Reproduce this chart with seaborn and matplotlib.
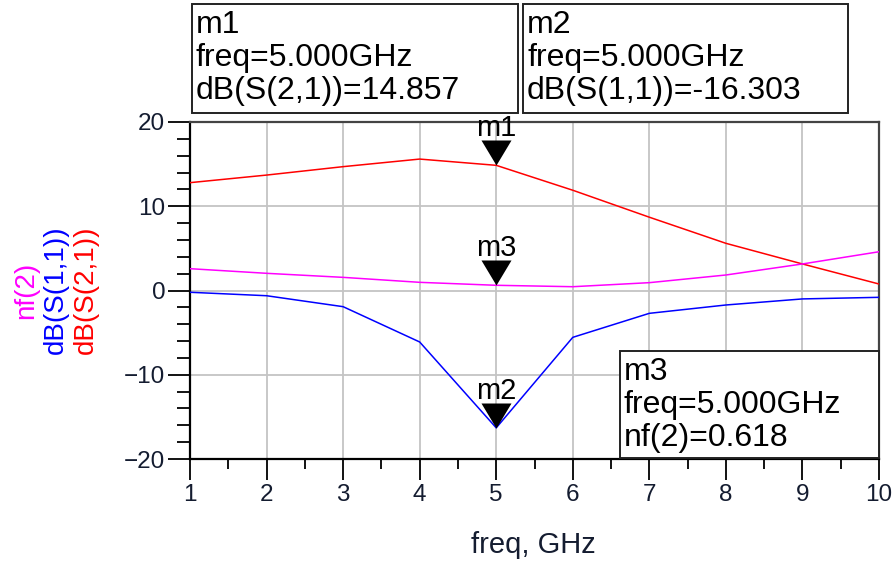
import pandas
import seaborn as sns
from matplotlib import pyplot
from matplotlib.patches import Rectangle
from matplotlib.ticker import MultipleLocator

sns.set_style("white")
pyplot.rcParams['font.family'] = ['Liberation Sans', 'DejaVu Sans']

# simulated sweep, 1 GHz step
freq_ghz = [1, 2, 3, 4, 5, 6, 7, 8, 9, 10]
s21_db = [12.8, 13.7, 14.7, 15.6, 14.857, 11.9, 8.7, 5.6, 3.15, 0.77]
s11_db = [-0.21, -0.62, -1.92, -6.11, -16.303, -5.56, -2.71, -1.72, -1.0, -0.81]
nf2 = [2.59, 2.04, 1.56, 0.97, 0.618, 0.45, 0.93, 1.84, 3.15, 4.6]

trace_names = ['dB(S(2,1))', 'dB(S(1,1))', 'nf(2)']
trace_colors = ['#ff0000', '#0000ff', '#ff00ff']

marker_names = ['m1', 'm2', 'm3']
marker_freq = 5.0
marker_values = [14.857, -16.303, 0.618]
marker_text = ['dB(S(2,1))=14.857', 'dB(S(1,1))=-16.303', 'nf(2)=0.618']


def build_df():
    parts = []
    for name, vals in zip(trace_names, [s21_db, s11_db, nf2]):
        parts.append(pandas.DataFrame({'freq': freq_ghz, 'value': vals, 'trace': name}))
    return pandas.concat(parts, ignore_index=True)


W, H = 892, 561
fig = pyplot.figure(figsize=(W / 100, H / 100), dpi=100)
ax = fig.add_axes([190 / W, 1 - 459 / H, (879 - 190) / W, (459 - 122) / H])

plot_df = build_df()
sns.lineplot(data=plot_df, x='freq', y='value', hue='trace', hue_order=trace_names,
             palette=trace_colors, legend=False, lw=1.1, ax=ax, zorder=3)

ax.set_xlim(1, 10)
ax.set_ylim(-20, 20)
ax.xaxis.set_major_locator(MultipleLocator(1))
ax.xaxis.set_minor_locator(MultipleLocator(0.5))
ax.yaxis.set_major_locator(MultipleLocator(10))
ax.yaxis.set_minor_locator(MultipleLocator(2))
ax.grid(True, which='major', color='#c4c4c4', lw=1.3, zorder=0)
ax.tick_params(which='both', direction='out', bottom=True, left=True, width=1.3,
               colors='black', labelcolor='#141c30', labelsize=17.5)
ax.tick_params(axis='y', which='major', length=15.8, pad=2)
ax.tick_params(axis='y', which='minor', length=9.4)
ax.tick_params(axis='x', which='major', length=15.1, pad=3)
ax.tick_params(axis='x', which='minor', length=7.2)
for side in ['left', 'bottom']:
    ax.spines[side].set_color('black')
    ax.spines[side].set_linewidth(1.6)
for side in ['top', 'right']:
    ax.spines[side].set_color('#444444')
    ax.spines[side].set_linewidth(1.6)
ax.set_xlabel('')
ax.set_ylabel('')

# marker triangles, apex on the trace
tri = [(-15, 25), (15, 25), (0, 0)]
for name, val in zip(marker_names, marker_values):
    ax.plot([marker_freq], [val], marker=tri, ms=36, mew=0, color='black',
            ls='none', zorder=5, clip_on=False)
    ax.annotate(name, (marker_freq, val), xytext=(0, 21), textcoords='offset points',
                ha='center', va='baseline', fontsize=21, color='black', zorder=6)

# marker readout boxes (pixel layout)
boxes = [(192, 4, 518, 113), (523, 4, 848, 113), (620, 351, 879, 458)]
for (x0, y0, x1, y1), name, txt in zip(boxes, marker_names, marker_text):
    fig.patches.append(Rectangle((x0 / W, 1 - y1 / H), (x1 - x0) / W, (y1 - y0) / H,
                                 transform=fig.transFigure, fill=True, facecolor='white',
                                 edgecolor='#222222', lw=1.4, zorder=10))
    for i, line in enumerate([name, 'freq=5.000GHz', txt]):
        fig.text((x0 + 4) / W, 1 - (y0 + 29 + 33 * i) / H, line, fontsize=23,
                 ha='left', va='baseline', color='black', zorder=11)

# stacked coloured y labels
for xc, name, col in zip([26, 56, 86], ['nf(2)', 'dB(S(1,1))', 'dB(S(2,1))'],
                         ['#ff00ff', '#0000ff', '#ff0000']):
    fig.text(xc / W, 1 - 290 / H, name, rotation=90, ha='center', va='center',
             fontsize=20, color=col)

fig.text(533 / W, 1 - 545 / H, 'freq, GHz', ha='center', va='center',
         fontsize=21, color='#141c30')

pyplot.savefig('out.png', dpi=100)
